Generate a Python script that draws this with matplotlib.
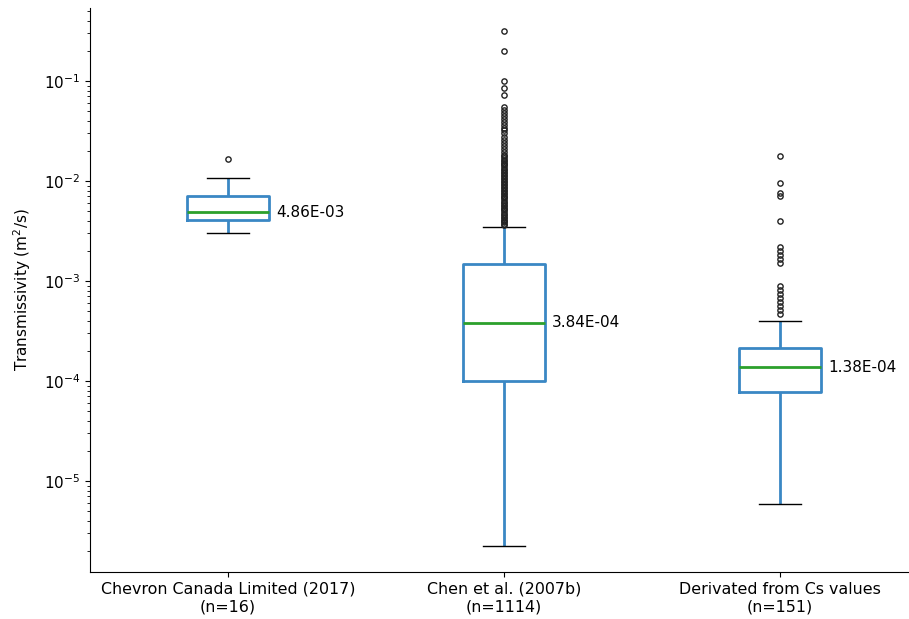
import matplotlib
matplotlib.use("Agg")
import matplotlib.pyplot as plt

categories = ["Chevron Canada Limited (2017)\n(n=16)",
              "Chen et al. (2007b)\n(n=1114)",
              "Derivated from Cs values\n(n=151)"]
medians = [4.86e-3, 3.84e-4, 1.38e-4]
q1 = [4.07e-3, 1.0e-4, 7.82e-5]
q3 = [7.13e-3, 1.48e-3, 2.12e-4]
whislo = [3.04e-3, 2.24e-6, 5.9e-6]
whishi = [1.07e-2, 3.47e-3, 3.98e-4]
median_labels = ["4.86E-03", "3.84E-04", "1.38E-04"]

fliers_chevron = [1.65e-2]
fliers_chen = [0.316, 0.2, 0.1, 0.085, 0.072, 0.055, 0.051, 0.048, 0.045,
               0.042, 0.039, 0.036, 0.034, 0.032, 0.030, 0.0275, 0.0257,
               0.024, 0.0224, 0.0209, 0.0195, 0.0182, 0.0176, 0.017, 0.0164,
               0.0159, 0.0153, 0.0148, 0.0143, 0.0138, 0.0133, 0.0129, 0.0124,
               0.012, 0.0116, 0.0112, 0.0108, 0.0105, 0.0101, 0.0098, 0.0094,
               0.0091, 0.0088, 0.0085, 0.0082, 0.0079, 0.0076, 0.0074, 0.0071,
               0.0069, 0.0067, 0.0065, 0.0062, 0.006, 0.0058, 0.0056, 0.0054,
               0.0052, 0.0051, 0.0049, 0.0047, 0.0046, 0.0044, 0.0043, 0.0041,
               0.004, 0.0039, 0.0037, 0.0036]
fliers_cs = [0.0178, 0.0095, 0.0076, 0.0071, 0.0040, 0.00219, 0.0020,
             0.00182, 0.00166, 0.00151, 8.9e-4, 8.1e-4, 7.4e-4, 6.8e-4,
             6.2e-4, 5.6e-4, 5.1e-4, 4.7e-4]
fliers = [fliers_chevron, fliers_chen, fliers_cs]

stats = []
for i in range(3):
    stats.append(dict(med=medians[i], q1=q1[i], q3=q3[i],
                      whislo=whislo[i], whishi=whishi[i],
                      fliers=fliers[i], label=categories[i]))

fig = plt.figure(figsize=(9.09, 6.19), dpi=100)
ax = fig.add_axes([90/909, 1-572/619, 1-90/909, (572-8)/619])

positions = [1, 2, 3]
ax.bxp(stats, positions=positions, widths=0.3,
       boxprops=dict(color="#3a87c4", linewidth=2.0),
       whiskerprops=dict(color="#3a87c4", linewidth=2.0,
                         solid_capstyle="butt"),
       capprops=dict(color="black", linewidth=1.0),
       medianprops=dict(color="#2ca02c", linewidth=2.0),
       flierprops=dict(marker="o", markerfacecolor="none",
                       markeredgecolor="#222222", markersize=3.8,
                       markeredgewidth=1.0, linestyle="none"))

ax.set_yscale("log")
ax.set_ylim(1.23e-6, 0.537)
ax.set_xlim(0.5, 0.5 + 819/276)

for p, m, lab in zip(positions, medians, median_labels):
    ax.text(p + 0.175, m, lab, va="center", ha="left", fontsize=11)

ax.set_ylabel("Transmissivity (m$^2$/s)", fontsize=11, labelpad=8)
ax.tick_params(axis="y", labelsize=11)
ax.tick_params(axis="x", labelsize=11.4)
ax.spines["top"].set_visible(False)
ax.spines["right"].set_visible(False)

fig.savefig("out.png", dpi=100)
